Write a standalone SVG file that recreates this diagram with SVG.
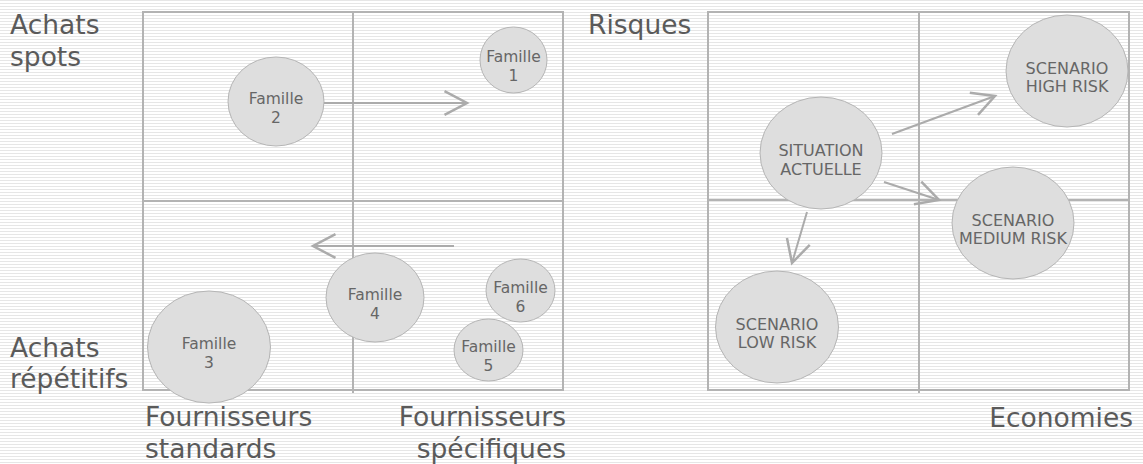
<svg xmlns="http://www.w3.org/2000/svg" width="1143" height="464" viewBox="0 0 1143 464">
<defs>
<pattern id="stripes" x="0" y="0" width="8" height="3" patternUnits="userSpaceOnUse">
<rect width="8" height="3" fill="#ffffff"/>
<rect y="0" width="8" height="1" fill="#e6e6e6"/>
</pattern>
<marker id="chev" markerUnits="userSpaceOnUse" markerWidth="30" markerHeight="30" refX="0" refY="0" viewBox="-22 -12 24 24" orient="auto" overflow="visible">
<path d="M-18,-9.5 L0,0 L-18,9.5" fill="none" stroke="#ababab" stroke-width="2"/>
</marker>
</defs>
<style>
.frame{fill:none;stroke:#b3b3b3;stroke-width:2}
.grid{stroke:#b3b3b3;stroke-width:2}
.node{fill:#dedede;stroke:#b5b5b5;stroke-width:1}
.ntext{font-family:"DejaVu Sans",Verdana,sans-serif;font-size:15.5px;fill:#666666;text-anchor:middle}
.stext{font-family:"DejaVu Sans",Verdana,sans-serif;font-size:16px;fill:#666666;text-anchor:middle}
.label{font-family:"DejaVu Sans",Verdana,sans-serif;font-size:26.5px;fill:#5a5a5a}
.conn{fill:none;stroke:#ababab;stroke-width:2;marker-end:url(#chev)}
</style>
<rect width="1143" height="464" fill="url(#stripes)"/>

<g id="axes-left">
<rect class="frame" x="143" y="12" width="420" height="378"/>
<line class="grid" x1="353" y1="12" x2="353" y2="393"/>
<line class="grid" x1="143" y1="201" x2="563" y2="201"/>
</g>
<g id="axes-right">
<rect class="frame" x="708" y="12" width="421" height="378"/>
<line class="grid" x1="919" y1="12" x2="919" y2="393"/>
<line class="grid" x1="708" y1="200" x2="1129" y2="200"/>
</g>

<g id="labels">
<text class="label" x="10" y="34">Achats</text>
<text class="label" x="10" y="66">spots</text>
<text class="label" x="10" y="357">Achats</text>
<text class="label" x="10" y="388">répétitifs</text>
<text class="label" x="145" y="426">Fournisseurs</text>
<text class="label" x="145" y="458">standards</text>
<text class="label" x="566" y="426" text-anchor="end">Fournisseurs</text>
<text class="label" x="566" y="458" text-anchor="end">spécifiques</text>
<text class="label" x="588" y="34">Risques</text>
<text class="label" x="1133" y="427" text-anchor="end">Economies</text>
</g>

<g id="connectors">
<line class="conn" x1="324" y1="103" x2="467" y2="103"/>
<line class="conn" x1="454" y1="246" x2="313" y2="246"/>
<line class="conn" x1="892" y1="134" x2="995" y2="96"/>
<line class="conn" x1="884" y1="182" x2="939" y2="200"/>
<line class="conn" x1="807" y1="212" x2="792" y2="263"/>
</g>

<g id="famille1">
<ellipse class="node" cx="513.5" cy="60" rx="33.5" ry="33"/>
<text class="ntext" x="513.5" y="62">Famille</text>
<text class="ntext" x="513.5" y="81">1</text>
</g>
<g id="famille2">
<ellipse class="node" cx="276" cy="101.5" rx="48" ry="44.5"/>
<text class="ntext" x="276" y="104">Famille</text>
<text class="ntext" x="276" y="123">2</text>
</g>
<g id="famille3">
<ellipse class="node" cx="209" cy="347" rx="61.5" ry="56"/>
<text class="ntext" x="209" y="349">Famille</text>
<text class="ntext" x="209" y="368">3</text>
</g>
<g id="famille4">
<ellipse class="node" cx="375" cy="297.5" rx="49" ry="44.5"/>
<text class="ntext" x="375" y="299.5">Famille</text>
<text class="ntext" x="375" y="318.5">4</text>
</g>
<g id="famille6">
<ellipse class="node" cx="520.5" cy="290.5" rx="34.5" ry="31.5"/>
<text class="ntext" x="520.5" y="292.5">Famille</text>
<text class="ntext" x="520.5" y="311.5">6</text>
</g>
<g id="famille5">
<ellipse class="node" cx="488.5" cy="350" rx="34.5" ry="31"/>
<text class="ntext" x="488.5" y="352">Famille</text>
<text class="ntext" x="488.5" y="371">5</text>
</g>

<g id="situation-actuelle">
<ellipse class="node" cx="821" cy="153" rx="61" ry="56"/>
<text class="stext" x="821" y="156">SITUATION</text>
<text class="stext" x="821" y="174.5">ACTUELLE</text>
</g>
<g id="scenario-high">
<ellipse class="node" cx="1067" cy="71" rx="61" ry="56"/>
<text class="stext" x="1067" y="73.5">SCENARIO</text>
<text class="stext" x="1067" y="92">HIGH RISK</text>
</g>
<g id="scenario-medium">
<ellipse class="node" cx="1013" cy="223" rx="61" ry="56"/>
<text class="stext" x="1013" y="225.5">SCENARIO</text>
<text class="stext" x="1013" y="244">MEDIUM RISK</text>
</g>
<g id="scenario-low">
<ellipse class="node" cx="777" cy="327" rx="61.5" ry="56"/>
<text class="stext" x="777" y="329.5">SCENARIO</text>
<text class="stext" x="777" y="348">LOW RISK</text>
</g>
</svg>
